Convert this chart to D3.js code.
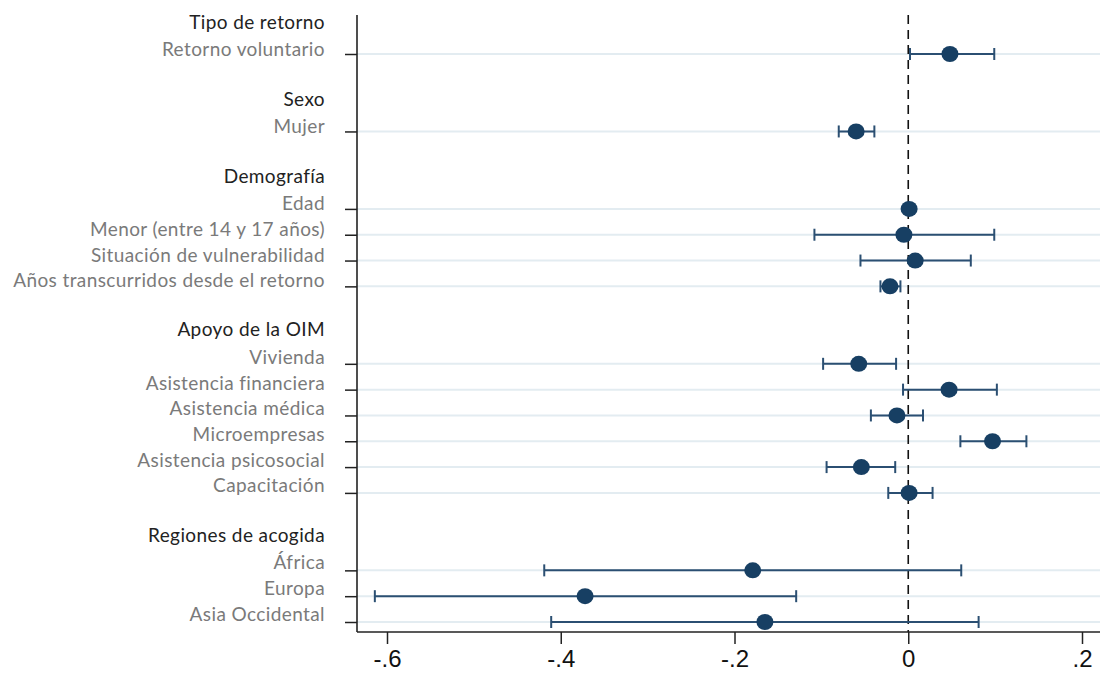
<!DOCTYPE html>
<html>
<head>
<meta charset="utf-8">
<script src="https://cdn.jsdelivr.net/npm/d3@7"></script>
<style>
  body { margin: 0; background: #fff; }
  svg { display: block; }
  .lab { font-family: Lato, "Open Sans", sans-serif; font-size: 19px; letter-spacing: 0.4px; fill: #7a7a7a; }
  .hdr { font-family: Lato, "Open Sans", sans-serif; font-size: 19px; letter-spacing: 0.4px; fill: #222; }
  .xax text { font-family: "Liberation Sans", Arial, sans-serif; font-size: 24px; fill: #111; }
</style>
</head>
<body>
<svg id="chart" width="1100" height="680"></svg>
<script>
// rows top to bottom; "" = blank spacer, header rows flagged below
const rows = [
  "Tipo de retorno", "Retorno voluntario", "",
  "Sexo", "Mujer", "",
  "Demografía", "Edad", "Menor (entre 14 y 17 años)", "Situación de vulnerabilidad", "Años transcurridos desde el retorno", "",
  "Apoyo de la OIM", "Vivienda", "Asistencia financiera", "Asistencia médica", "Microempresas", "Asistencia psicosocial", "Capacitación", "",
  "Regiones de acogida", "África", "Europa", "Asia Occidental"
];
const headers = ["Tipo de retorno", "Sexo", "Demografía", "Apoyo de la OIM", "Regiones de acogida"];

const items = ["Retorno voluntario", "Mujer", "Edad", "Menor (entre 14 y 17 años)", "Situación de vulnerabilidad",
  "Años transcurridos desde el retorno", "Vivienda", "Asistencia financiera", "Asistencia médica", "Microempresas",
  "Asistencia psicosocial", "Capacitación", "África", "Europa", "Asia Occidental"];
const coef = [0.048, -0.060, 0.001, -0.005, 0.008, -0.021, -0.057, 0.047, -0.013, 0.097, -0.054, 0.001, -0.179, -0.372, -0.165];
const lo   = [0.002, -0.080, -0.003, -0.108, -0.055, -0.032, -0.098, -0.006, -0.043, 0.060, -0.094, -0.023, -0.419, -0.614, -0.411];
const hi   = [0.099, -0.039, 0.004, 0.099, 0.072, -0.009, -0.014, 0.102, 0.017, 0.136, -0.015, 0.028, 0.061, -0.129, 0.081];
const xTicks = [-0.6, -0.4, -0.2, 0, 0.2];

const svg = d3.select("#chart");
const plotL = 357, plotR = 1100, plotT = 15, plotB = 632;

const keys = rows.map((r, i) => r === "" ? "blank" + i : r);
const y = d3.scalePoint().domain(keys).range([54 - 25.82, 622]);
// labels sit a little above their ticks, on a slightly tighter pitch
const yLab = d3.scalePoint().domain(keys).range([49 - 25.64, 613]);
const x = d3.scaleLinear().domain([-0.6, 0.2]).range([387, 1082]);

const data = items.map((d, i) => ({ name: d, c: coef[i], lo: lo[i], hi: hi[i] }));

// gridlines
svg.append("g").selectAll("line").data(items).join("line")
  .attr("x1", plotL).attr("x2", plotR)
  .attr("y1", d => y(d)).attr("y2", d => y(d))
  .attr("stroke", "#e3ecf1").attr("stroke-width", 2);

// zero reference line
svg.append("line")
  .attr("x1", x(0)).attr("x2", x(0)).attr("y1", plotT).attr("y2", plotB)
  .attr("stroke", "#111").attr("stroke-width", 1.6).attr("stroke-dasharray", "9,6");

// y axis (ticks only)
const yAxis = svg.append("g").attr("transform", `translate(${plotL},0)`)
  .call(d3.axisLeft(y).tickValues(items).tickSize(12).tickFormat(""));
yAxis.select(".domain").remove();
yAxis.selectAll("line").attr("stroke", "#222").attr("stroke-width", 1.5);
svg.append("line").attr("x1", plotL).attr("x2", plotL).attr("y1", plotT).attr("y2", plotB)
  .attr("stroke", "#222").attr("stroke-width", 1.6);

// row labels
svg.append("g").selectAll("text").data(rows.filter(r => r !== "")).join("text")
  .attr("class", d => headers.includes(d) ? "hdr" : "lab")
  .attr("x", 325)
  .attr("y", d => yLab(d) - (headers.includes(d) ? 2 : 0))
  .attr("text-anchor", "end")
  .attr("dominant-baseline", "central")
  .text(d => d);

// x axis
const fmt = d => d === 0 ? "0" : d3.format(".1f")(d).replace("\u2212", "-").replace("0.", ".");
const xAxis = svg.append("g").attr("class", "xax").attr("transform", `translate(0,${plotB})`)
  .call(d3.axisBottom(x).tickValues(xTicks).tickSize(12).tickPadding(6).tickFormat(fmt));
xAxis.select(".domain").remove();
xAxis.selectAll("line").attr("stroke", "#222").attr("stroke-width", 1.5);
svg.append("line").attr("x1", plotL).attr("x2", plotR).attr("y1", plotB).attr("y2", plotB)
  .attr("stroke", "#222").attr("stroke-width", 1.6);

// error bars
const col = "#2b4f72";
const g = svg.append("g");
g.selectAll(".ci").data(data).join("line")
  .attr("x1", d => x(d.lo)).attr("x2", d => x(d.hi))
  .attr("y1", d => y(d.name)).attr("y2", d => y(d.name))
  .attr("stroke", col).attr("stroke-width", 2);
["lo", "hi"].forEach(k => {
  g.selectAll(".cap" + k).data(data).join("line")
    .attr("x1", d => x(d[k])).attr("x2", d => x(d[k]))
    .attr("y1", d => y(d.name) - 6).attr("y2", d => y(d.name) + 6)
    .attr("stroke", col).attr("stroke-width", 2);
});
g.selectAll("ellipse").data(data).join("ellipse")
  .attr("cx", d => x(d.c)).attr("cy", d => y(d.name))
  .attr("rx", 8.5).attr("ry", 8)
  .attr("fill", "#173f63");
</script>
</body>
</html>
